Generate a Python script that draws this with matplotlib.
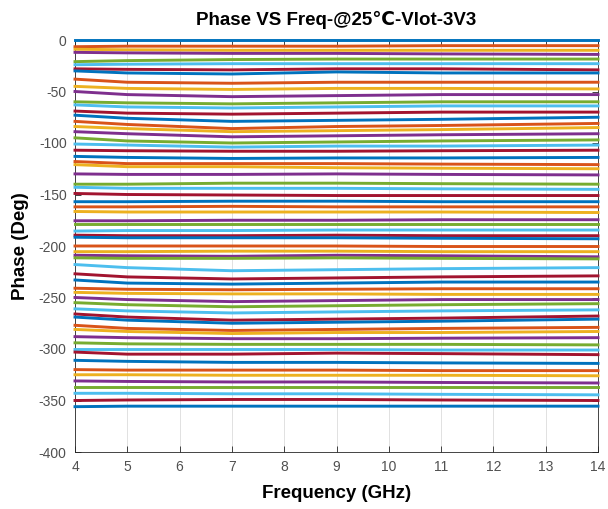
import matplotlib
matplotlib.use("Agg")
import matplotlib.pyplot as plt

plt.rcParams['font.family'] = ['Liberation Sans', 'DejaVu Sans']
plt.rcParams['axes.unicode_minus'] = False

freqs = [4, 5, 7, 9, 11, 14]

p4 = [0, -6.5, -9, -12, -21, -24, -28, -30, -38, -45, -50, -60, -63, -69, -73, -79,
      -84, -89, -95, -101, -107, -113, -118, -121, -130, -140, -143, -149, -157, -162, -166.5, -175.5,
      -178.5, -185.5, -189.5, -191.5, -200, -205.5, -209, -211.5, -218, -227, -233, -241, -245, -250, -255, -261,
      -266, -269, -277, -281, -288, -294, -300.5, -303, -311, -320, -325, -331, -337, -343, -350, -356]
p5 = [0, -6, -9.5, -12.5, -20, -23.5, -28.5, -32, -41, -47, -53, -61, -65, -71, -76, -82,
      -86, -91, -98, -102, -107.5, -114, -120, -123, -130.5, -140, -144, -150, -157, -162, -167, -175.5,
      -178.5, -185, -190, -192, -200, -205.5, -209.5, -212, -221, -230, -236, -242, -246, -252, -257, -263,
      -269, -272, -280, -283, -289, -295, -300.5, -305, -312, -320.5, -325, -331.5, -337, -343, -349.5, -355.5]
p7 = [0, -6, -10, -13, -19, -23, -29, -33, -42, -48, -55, -62, -66, -72, -79, -86,
      -89, -94, -100, -104, -108, -115, -120, -123, -130.5, -139, -144, -150.5, -156.5, -161.5, -167, -175,
      -178.5, -185, -190, -192, -200, -205, -210, -212, -224, -232, -237, -242.5, -246.5, -254, -259, -265,
      -272, -275, -282, -285, -290, -295.5, -300.5, -305, -313, -320.5, -325.5, -332, -337, -343.5, -349, -355.5]
p9 = [0, -6, -10, -13, -18.5, -23, -28, -31, -41, -47, -54, -61, -65, -71, -78, -84,
      -88, -93, -99, -103, -108, -114.5, -120, -124, -130, -139, -144, -151, -156.5, -162, -167, -175,
      -178.5, -184.5, -189.5, -192, -200, -205, -209, -211.5, -223, -231, -236, -242, -246.5, -253, -258, -264,
      -271, -274, -281, -284, -290, -295.5, -300.5, -304, -313, -320.5, -325.5, -332, -337, -343.5, -349, -355.5]
p11 = [0, -5.5, -10, -13.5, -18.5, -23, -28, -32, -41, -47, -53, -60, -64, -70, -77, -83,
       -87, -92, -98, -103, -107.5, -114.5, -120.5, -124.5, -130.5, -139.5, -144.5, -151, -157, -162, -167, -174.5,
       -178.5, -184.5, -190, -192.5, -200.5, -205.5, -209.5, -212, -222, -230, -235, -241.5, -247, -252, -257, -263,
       -270, -273, -280, -284, -289.5, -295.5, -301, -304.5, -313.5, -321, -325.5, -332.5, -337, -344, -349.5, -355.5]
p14 = [0, -5.5, -10, -14, -18.5, -23, -29, -32, -41, -47.5, -53, -60, -64, -70, -75, -81,
       -85, -91, -97, -102, -107, -114, -121, -125, -131, -140, -145, -151, -157, -162, -167.5, -174.5,
       -178.5, -184.5, -190, -193, -200.5, -205.5, -210.5, -212.5, -221, -229, -235, -241.5, -247, -252, -256, -262,
       -268, -271, -279, -283, -289, -296, -301, -305.5, -314, -321, -326, -333, -337, -344.5, -350, -355.5]

colors = ['#0072BD', '#D95319', '#EDB120', '#7E2F8E', '#77AC30', '#4DBEEE', '#A2142F']

fig = plt.figure(figsize=(6.08, 5.09), dpi=100)
ax = fig.add_axes([75/608, 1-452/509, (598-75)/608, 412/509])

for i in range(len(p4)):
    ys = [p4[i], p5[i], p7[i], p9[i], p11[i], p14[i]]
    ax.plot(freqs, ys, color=colors[i % 7], lw=2.1, solid_joinstyle='round',
            clip_on=False, zorder=3)

ax.set_xlim(4, 14)
ax.set_ylim(-400, 0)
ax.set_xticks(range(4, 15))
ax.set_yticks(range(-400, 1, 50))
ax.grid(axis='x', color='#dcdcdc', lw=0.6)
ax.set_axisbelow(True)
ax.tick_params(direction='in', top=True, right=True, length=4, width=0.6,
               colors='#262626', labelsize=10, labelcolor='#505050', pad=6)
for s in ax.spines.values():
    s.set_color('#262626')
    s.set_linewidth(0.6)

ax.set_title('Phase VS Freq-@25℃-Vlot-3V3', fontsize=13.5, fontweight='bold', pad=11)
ax.set_xlabel('Frequency (GHz)', fontsize=13.5, fontweight='bold', labelpad=8)
ax.set_ylabel('Phase (Deg)', fontsize=13.5, fontweight='bold', labelpad=7)

fig.savefig('out.png', dpi=100)
